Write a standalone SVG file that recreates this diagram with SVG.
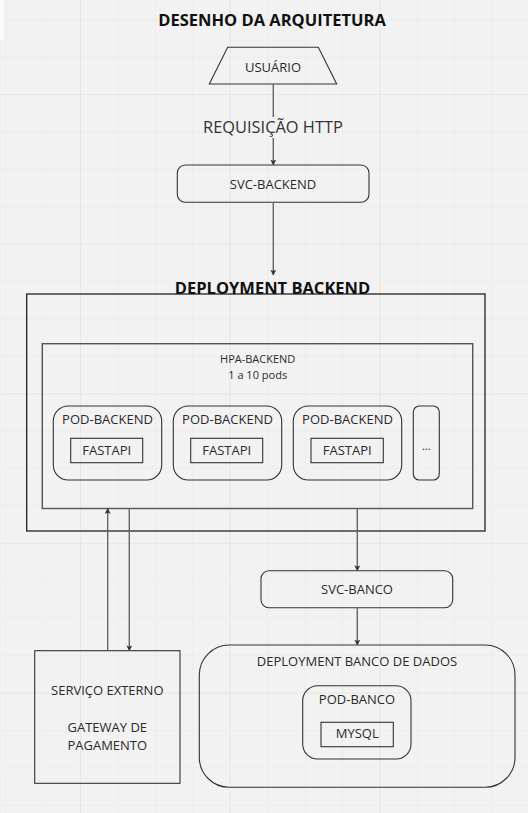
<svg xmlns="http://www.w3.org/2000/svg" width="528" height="813" viewBox="0 0 528 813">
  <defs>
    <pattern id="gridMinor" x="5" y="19.3" width="37.45" height="37.4" patternUnits="userSpaceOnUse">
      <path d="M0 0V37.4M0 0H37.45" fill="none" stroke="#e8e8e8" stroke-width="1"/>
    </pattern>
    <pattern id="gridMajor" x="80" y="94.1" width="149.8" height="149.6" patternUnits="userSpaceOnUse">
      <path d="M0 0V149.6M0 0H149.8" fill="none" stroke="#e1e1e1" stroke-width="1.2"/>
    </pattern>
    <marker id="arrow" viewBox="0 0 10 10" refX="9" refY="5" markerWidth="6" markerHeight="6" markerUnits="userSpaceOnUse" orient="auto">
      <path d="M0 0L10 5L0 10L2.5 5Z" fill="#333"/>
    </marker>
    <style>
      text { font-family: "Open Sans", "Noto Sans", "Liberation Sans", sans-serif; fill: #2a2a2a; text-anchor: middle; }
      .title { font-weight: bold; font-size: 16.5px; fill: #111; }
      .lbl { font-size: 13px; }
      .sm { font-size: 11px; }
      .shape { fill: none; stroke: #333; stroke-width: 1.1; }
      .outer { fill: none; stroke: #222; stroke-width: 1.3; }
      .hpa { fill: none; stroke: #555; stroke-width: 1.4; }
      .conn { fill: none; stroke: #666; stroke-width: 1.4; marker-end: url(#arrow); }
      .plain { fill: none; stroke: #666; stroke-width: 1.4; }
    </style>
  </defs>

  <rect x="0" y="0" width="528" height="813" fill="#f2f2f2"/>
  <rect x="0" y="0" width="528" height="813" fill="url(#gridMinor)"/>
  <rect x="0" y="0" width="528" height="813" fill="url(#gridMajor)"/>
  <rect x="0" y="0" width="4" height="40" fill="#fbfbfb"/>

  <g id="title">
    <text class="title" x="272" y="26">DESENHO DA ARQUITETURA</text>
  </g>

  <g id="usuario">
    <polygon class="shape" points="227.7,47.3 318.3,47.3 336.7,84 209.3,84"/>
    <text class="lbl" x="273" y="71.5">USUÁRIO</text>
  </g>

  <g id="svc-backend">
    <rect class="shape" x="177.3" y="165" width="191.7" height="37.3" rx="8"/>
    <text class="lbl" x="273" y="189">SVC-BACKEND</text>
  </g>

  <g id="deployment-backend">
    <rect class="outer" x="26.7" y="294" width="458.3" height="237"/>
    <text class="title" x="272.5" y="294">DEPLOYMENT BACKEND</text>
  </g>

  <g id="hpa-backend">
    <rect class="hpa" x="42.3" y="343.7" width="430.4" height="164.8"/>
    <text class="sm" x="257.7" y="363.3">HPA-BACKEND</text>
    <text class="sm" x="257.7" y="379">1 a 10 pods</text>
  </g>

  <g id="pod-backend-1">
    <rect class="shape" x="53.3" y="406" width="108.4" height="74" rx="15"/>
    <text class="lbl" x="107.5" y="424">POD-BACKEND</text>
    <rect class="shape" x="70.7" y="438.3" width="72" height="24.4"/>
    <text class="lbl" x="106.7" y="454.5">FASTAPI</text>
  </g>

  <g id="pod-backend-2">
    <rect class="shape" x="173.3" y="406" width="108.4" height="74" rx="15"/>
    <text class="lbl" x="227.5" y="424">POD-BACKEND</text>
    <rect class="shape" x="190.7" y="438.3" width="72" height="24.4"/>
    <text class="lbl" x="226.7" y="454.5">FASTAPI</text>
  </g>

  <g id="pod-backend-3">
    <rect class="shape" x="293.3" y="406" width="108.4" height="74" rx="15"/>
    <text class="lbl" x="347.5" y="424">POD-BACKEND</text>
    <rect class="shape" x="311" y="438.3" width="72.3" height="24.4"/>
    <text class="lbl" x="347.2" y="454.5">FASTAPI</text>
  </g>

  <g id="pod-more">
    <rect class="shape" x="413.3" y="406" width="26" height="74" rx="6"/>
    <text class="sm" x="426.3" y="450">...</text>
  </g>

  <g id="svc-banco">
    <rect class="shape" x="261" y="570.7" width="191.7" height="37" rx="8"/>
    <text class="lbl" x="357" y="594.3">SVC-BANCO</text>
  </g>

  <g id="deployment-banco">
    <rect class="shape" x="199.3" y="645" width="315.7" height="142.3" rx="30"/>
    <text class="lbl" x="357" y="666.3">DEPLOYMENT BANCO DE DADOS</text>
  </g>

  <g id="pod-banco">
    <rect class="shape" x="302.7" y="685.7" width="108.3" height="73.3" rx="15"/>
    <text class="lbl" x="357" y="703.5">POD-BANCO</text>
    <rect class="shape" x="321" y="722.3" width="72.3" height="24.4"/>
    <text class="lbl" x="357.2" y="738">MYSQL</text>
  </g>

  <g id="servico-externo">
    <rect class="shape" x="34.7" y="650.7" width="145.3" height="132.6"/>
    <text class="lbl" x="107.3" y="694.5">SERVIÇO EXTERNO</text>
    <text class="lbl" x="107.3" y="731.8">GATEWAY DE</text>
    <text class="lbl" x="107.3" y="750">PAGAMENTO</text>
  </g>

  <g id="connectors">
    <line class="plain" x1="273.3" y1="84" x2="273.3" y2="117"/>
    <line class="conn" x1="273.3" y1="138" x2="273.3" y2="165"/>
    <text style="font-size:16.4px;fill:#333" x="273" y="133.3">REQUISIÇÃO HTTP</text>
    <line class="conn" x1="273.3" y1="202.3" x2="273.3" y2="275"/>
    <line class="conn" x1="107.7" y1="650.7" x2="107.7" y2="508.5"/>
    <line class="conn" x1="129.3" y1="508.5" x2="129.3" y2="650.7"/>
    <line class="conn" x1="357.3" y1="508.5" x2="357.3" y2="570.7"/>
    <line class="conn" x1="357.3" y1="607.7" x2="357.3" y2="645"/>
  </g>
</svg>
